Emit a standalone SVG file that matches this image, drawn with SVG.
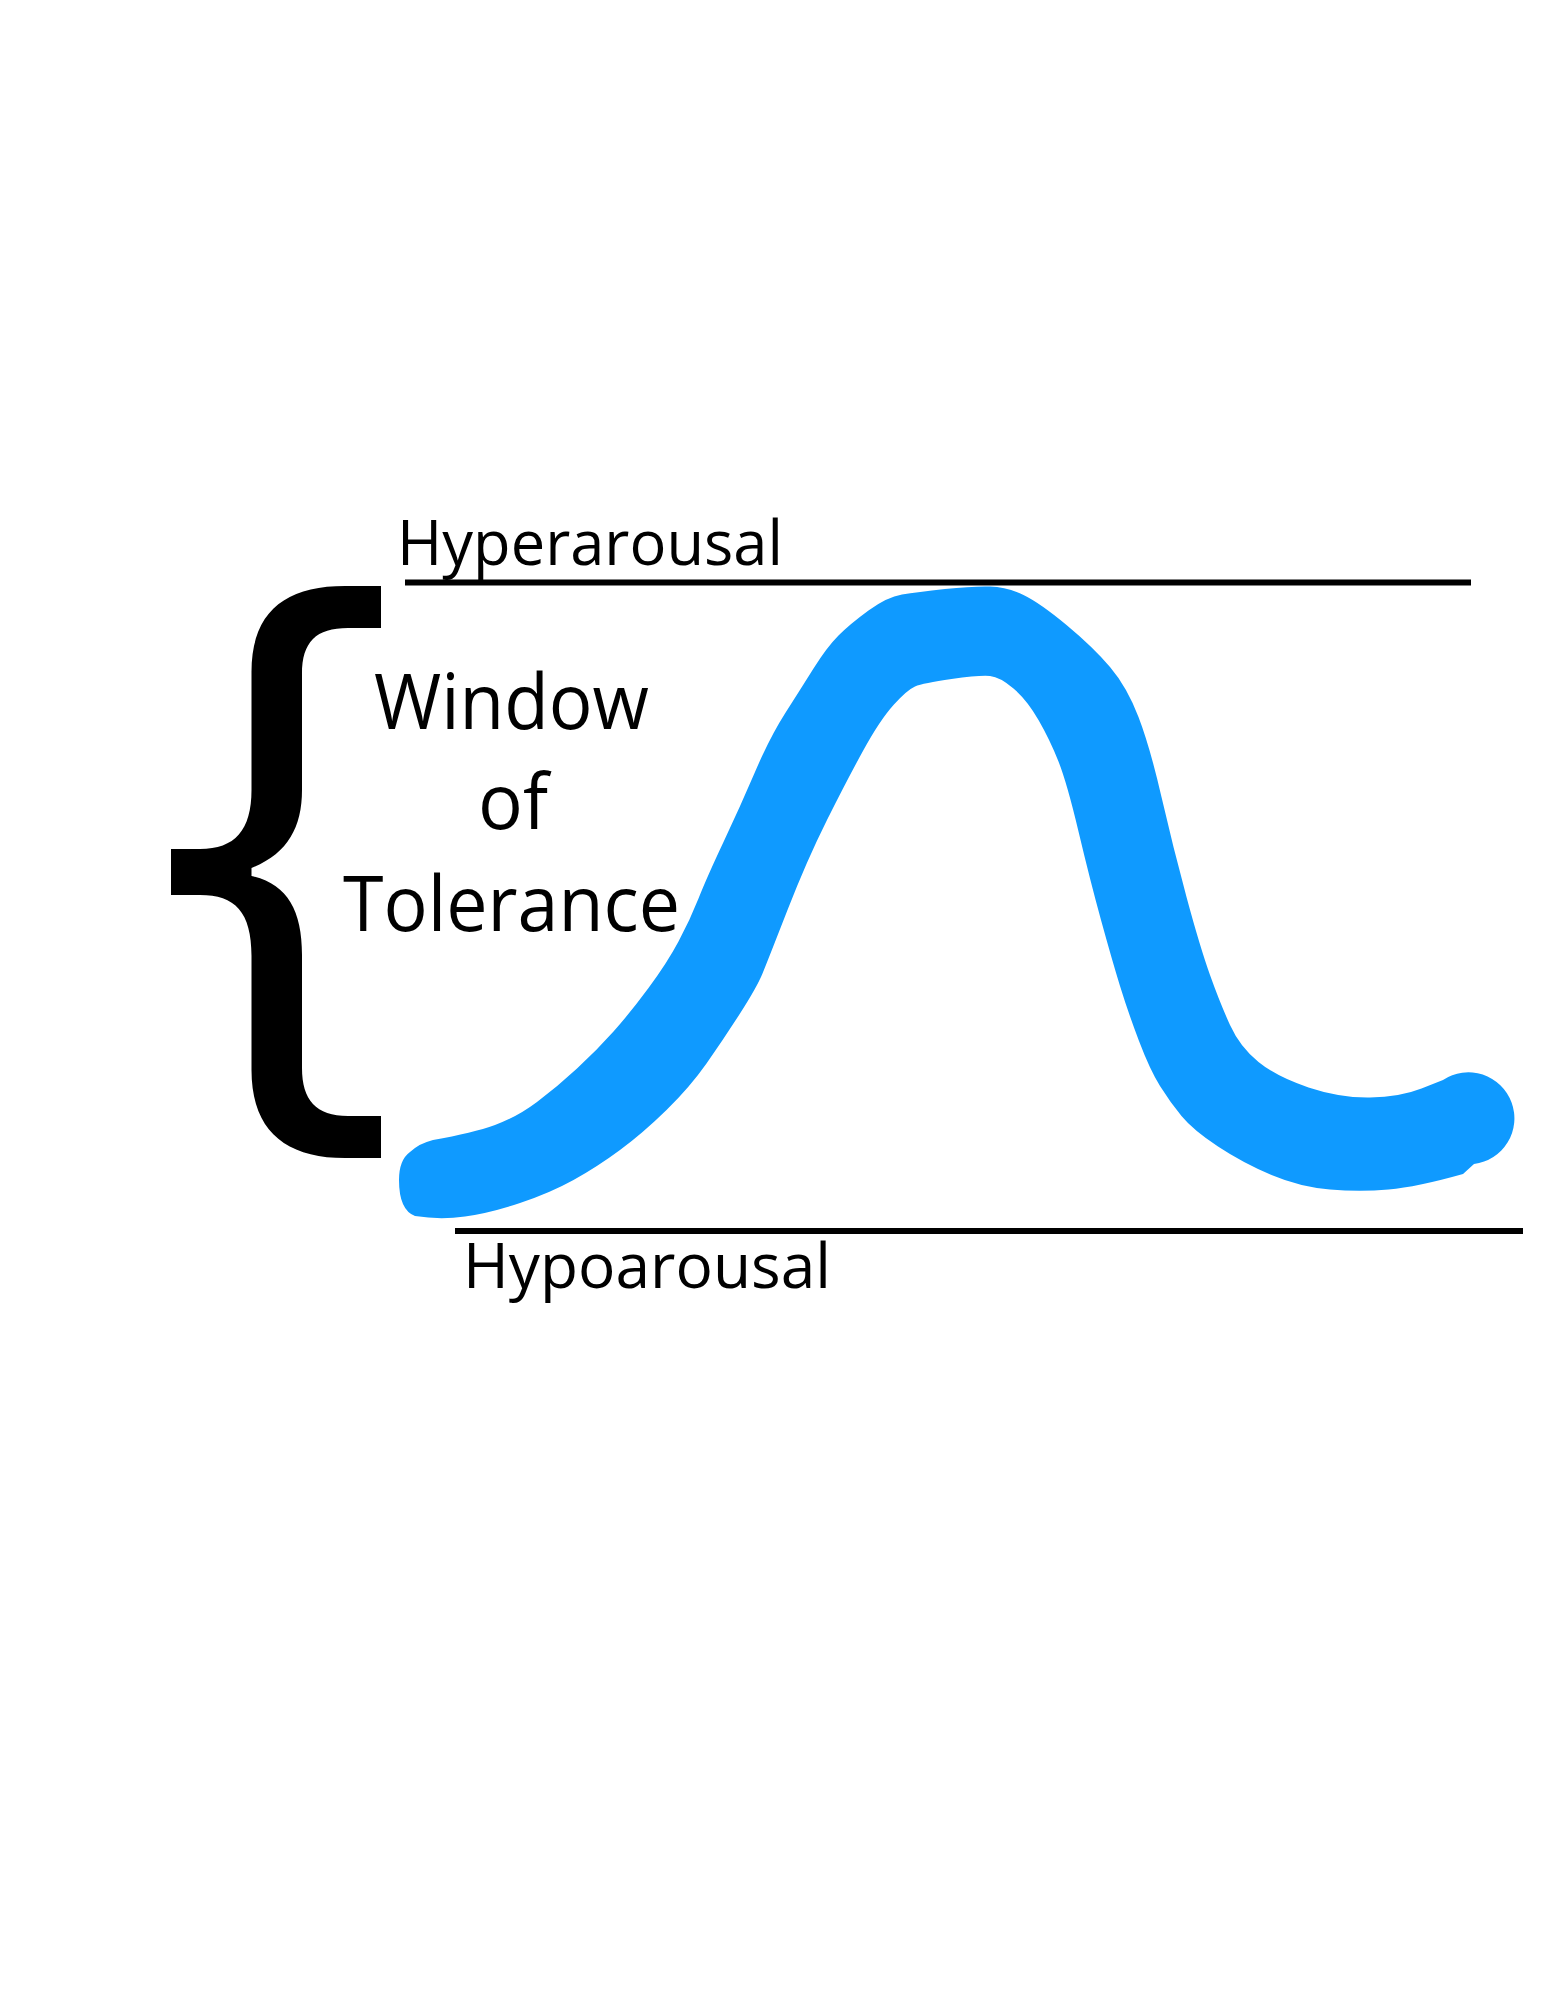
<svg xmlns="http://www.w3.org/2000/svg" width="1545" height="2000" viewBox="0 0 1545 2000">
<style>
.lbl{font-family:"Open Sans","Liberation Sans",sans-serif;fill:#000}
.axis{stroke:#000;stroke-width:6;fill:none}
</style>
<rect width="1545" height="2000" fill="#fff"/>
<g id="brace">
<path fill="#000" d="M381,586 L345,586 C285,586 251.5,612 251.5,672 L251.5,790 C251.5,830 235,849 200,849 L171,849 L171,895 L200,895 C235,895 251.5,912 251.5,956 L251.5,1070 C251.5,1130 285,1158 345,1158 L381,1158 L381,1116 L348,1116 C316,1116 302,1100 302,1068 L302,955 C302,910 287,884 251.5,876 L251.5,868 C287,854 302,828 302,790 L302,674 C302,642 316,628 348,628 L381,628 Z"/>
</g>
<g id="connectors">
<line class="axis" x1="405" y1="582.5" x2="1471" y2="582.5"/>
<line class="axis" x1="455" y1="1231" x2="1523" y2="1231"/>
</g>
<g id="curve">
<path fill="#0f9aff" d="M433,1140 Q473,1133 495,1125 Q517,1117 537,1102 Q557,1087 577,1068.5 Q597,1050 613.5,1031.5 Q630,1013 648.5,988 Q667,963 678.5,941.5 Q690,920 698.5,898.5 Q707,877 723.5,842 Q740,807 755,772 Q770,737 785,713.5 Q800,690 813.5,668.5 Q827,647 838.5,635.5 Q850,624 868.5,610.5 Q887,597 902,594.5 Q917,592 945,589 Q973,586 990,586.5 Q1007,587 1023.5,595 Q1040,603 1066.5,625 Q1093,647 1110,667 Q1127,687 1138.5,717 Q1150,747 1161.5,797 Q1173,847 1186.5,897 Q1200,947 1210,975 Q1220,1003 1230,1025 Q1240,1047 1258.5,1062 Q1277,1077 1308.5,1087.5 Q1340,1098 1370,1097.5 Q1400,1097 1421.5,1088.5 L1443,1080 A46 46 0 1 1 1474,1164 L1463,1174 Q1417,1187 1388.5,1189.5 Q1360,1192 1330,1189.5 Q1300,1187 1271.5,1175 Q1243,1163 1218,1146.5 Q1193,1130 1181.5,1116 Q1170,1102 1160,1086 Q1150,1070 1139,1041 Q1128,1012 1120,986 Q1112,960 1101,920 Q1090,880 1078.5,831.5 Q1067,783 1058.5,761.5 Q1050,740 1038.5,720 Q1027,700 1013.5,688.5 Q1000,677 990,676 Q980,675 951.5,679 Q923,683 915,686.5 Q907,690 893.5,705 Q880,720 863.5,750 Q847,780 827,820 Q807,860 787.5,910 Q768,960 762.5,973.5 Q757,987 740,1013.5 Q723,1040 706.5,1063.5 Q690,1087 666.5,1110 Q643,1133 620,1150 Q597,1167 573.5,1180 Q550,1193 520,1203 Q490,1213 465,1216.5 Q440,1220 415,1216 Q399,1210 399,1180 Q399,1160 410,1152 Q420,1143 433,1140 Z"/>
</g>
<g id="hyperarousal">
<text class="lbl" x="397" y="565" font-size="62" textLength="386" lengthAdjust="spacingAndGlyphs">Hyperarousal</text>
</g>
<g id="hypoarousal">
<text class="lbl" x="463" y="1288" font-size="62" textLength="368" lengthAdjust="spacingAndGlyphs">Hypoarousal</text>
</g>
<g id="window-of-tolerance">
<text class="lbl" x="374" y="729" font-size="77" textLength="275" lengthAdjust="spacingAndGlyphs">Window</text>
<text class="lbl" x="478" y="829" font-size="77" textLength="70" lengthAdjust="spacingAndGlyphs">of</text>
<text class="lbl" x="343" y="931" font-size="77" textLength="337" lengthAdjust="spacingAndGlyphs">Tolerance</text>
</g>
</svg>
